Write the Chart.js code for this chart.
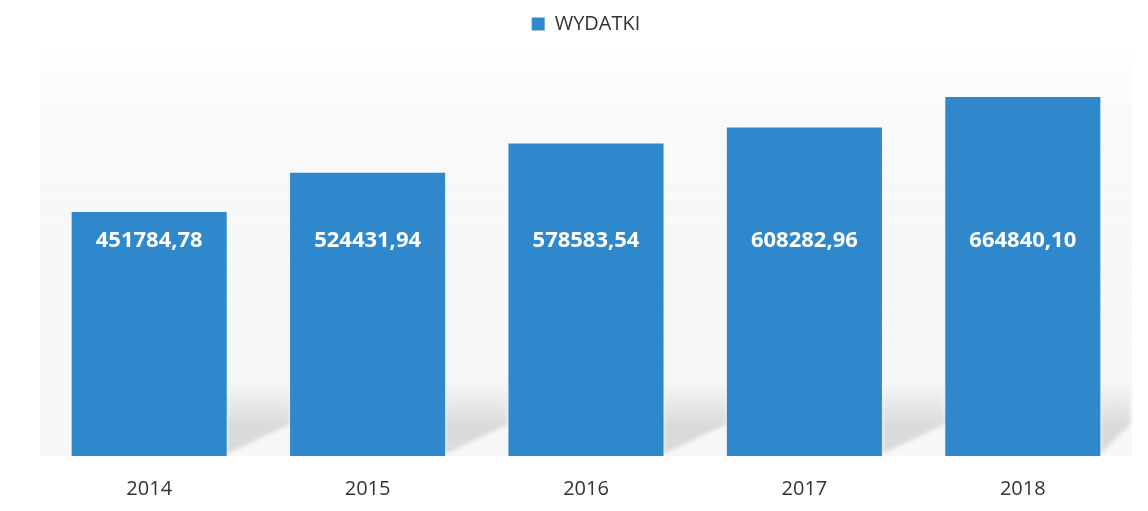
<!DOCTYPE html>
<html>
<head>
<meta charset="utf-8">
<script src="https://cdn.jsdelivr.net/npm/chart.js@4/dist/chart.umd.min.js"></script>
<style>
  html, body { margin: 0; padding: 0; background: #ffffff; }
  #wrap { width: 1148px; height: 511px; }
</style>
</head>
<body>
<div id="wrap"><canvas id="myBarChart" width="1148" height="511"></canvas></div>
<script>
// chart data
const years = ['2014', '2015', '2016', '2017', '2018'];
const wydatki = [451784.78, 524431.94, 578583.54, 608282.96, 664840.10];
const valueLabels = ['451784,78', '524431,94', '578583,54', '608282,96', '664840,10'];

// faint backdrop plus the grey floor shadow between the bars
const backdrop = {
    id: 'backdrop',
    beforeDatasetsDraw(chart) {
        const { ctx, chartArea } = chart;
        const meta = chart.getDatasetMeta(0);
        const bottom = chartArea.bottom;
        ctx.save();
        const bg = ctx.createLinearGradient(0, chartArea.top, 0, bottom);
        bg.addColorStop(0, 'rgba(242,242,242,0)');
        bg.addColorStop(0.2, 'rgba(242,242,242,0.5)');
        bg.addColorStop(1, 'rgba(242,242,242,0.6)');
        ctx.fillStyle = bg;
        ctx.fillRect(chartArea.left, chartArea.top, chartArea.right - chartArea.left, bottom - chartArea.top);

        const sh = ctx.createLinearGradient(0, bottom - 75, 0, bottom - 30);
        sh.addColorStop(0, 'rgba(215,215,215,0)');
        sh.addColorStop(1, 'rgba(215,215,215,0.9)');
        ctx.fillStyle = sh;
        ctx.filter = 'blur(2px)';
        meta.data.forEach((bar, i) => {
            const x0 = bar.x + bar.width / 2;
            const next = meta.data[i + 1];
            const x1 = next ? next.x - next.width / 2 : Math.min(x0 + 30, chartArea.right);
            ctx.beginPath();
            ctx.moveTo(x0, bottom - 75);
            ctx.lineTo(x1, bottom - 75);
            ctx.lineTo(x1, bottom - 32);
            ctx.lineTo(x0, bottom - 2);
            ctx.closePath();
            ctx.fill();
        });
        ctx.restore();
    }
};

// white value labels, all on one line inside the bars
const barValues = {
    id: 'barValues',
    afterDatasetsDraw(chart) {
        const { ctx } = chart;
        const meta = chart.getDatasetMeta(0);
        const y = chart.scales.y.getPixelForValue(398000);
        ctx.save();
        ctx.fillStyle = '#ffffff';
        ctx.font = 'bold 22px "Open Sans", sans-serif';
        ctx.textAlign = 'center';
        ctx.textBaseline = 'middle';
        meta.data.forEach((bar, i) => {
            ctx.fillText(valueLabels[i], bar.x, y);
        });
        ctx.restore();
    }
};

const ctxBar = document.getElementById('myBarChart').getContext('2d');
const myBarChart = new Chart(ctxBar, {
    type: 'bar',
    data: {
        labels: years,
        datasets: [{
            label: 'WYDATKI',
            data: wydatki,
            backgroundColor: '#2F88CB',
            borderWidth: 0,
            categoryPercentage: 1,
            barPercentage: 0.71
        }]
    },
    options: {
        responsive: false,
        animation: false,
        layout: { padding: { left: 40, right: 16, top: 4, bottom: -3 } },
        plugins: {
            legend: {
                position: 'top',
                labels: {
                    color: '#333333',
                    font: { family: '"Open Sans", sans-serif', size: 20 },
                    boxWidth: 13,
                    boxHeight: 13,
                    padding: 10
                }
            },
            tooltip: { enabled: false }
        },
        scales: {
            x: {
                grid: { display: false },
                border: { display: false },
                ticks: {
                    color: '#333333',
                    padding: 13,
                    font: { family: '"Open Sans", sans-serif', size: 20 }
                }
            },
            y: {
                display: false,
                beginAtZero: true,
                min: 0,
                max: 763000
            }
        }
    },
    plugins: [backdrop, barValues]
});
</script>
</body>
</html>
